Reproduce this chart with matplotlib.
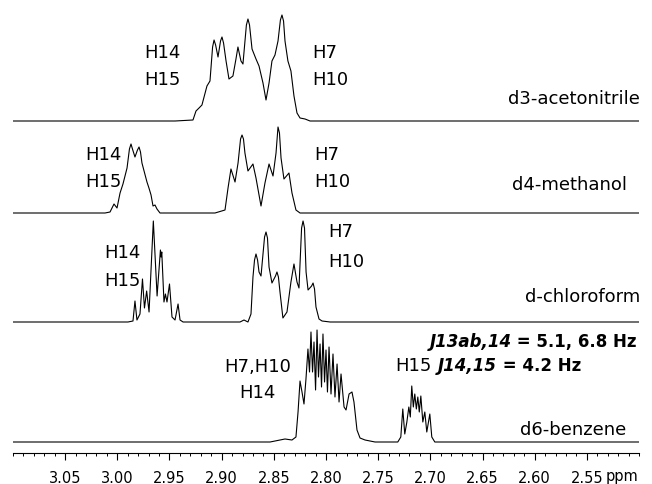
import matplotlib
matplotlib.use("Agg")
import matplotlib.pyplot as plt
from matplotlib.ticker import MultipleLocator, FixedLocator

plt.rcParams['font.family'] = ['DejaVu Sans']

# ---- spectra: (ppm, intensity) ----
ac_ppm = [3.10, 2.9447, 2.9275, 2.9246, 2.9217, 2.9189, 2.9141, 2.9112, 2.9087, 2.9073, 2.9058, 2.9035,
          2.9011, 2.8997, 2.8982, 2.8958, 2.8930, 2.8892, 2.8863, 2.8844, 2.8815, 2.8796, 2.8763, 2.8748, 2.8733, 2.8709,
          2.8671, 2.8642, 2.8604, 2.8575, 2.8546, 2.8518, 2.8489, 2.8460, 2.8437, 2.8422, 2.8407, 2.8393,
          2.8365, 2.8336, 2.8307, 2.8278, 2.8249, 2.8201, 2.8153, 2.50]
ac_int = [0, 0, 1, 10, 13, 16, 35, 40, 74, 81, 76, 64,
          80, 84, 78, 60, 42, 45, 62, 74, 60, 57, 96, 102, 96, 72,
          62, 55, 38, 21, 38, 60, 66, 80, 101, 106, 100, 80,
          60, 50, 25, 8, 3, 2, 0, 0]

me_ppm = [3.10, 3.0118, 3.0070, 3.0051, 3.0032, 3.0003, 2.9974, 2.9946, 2.9907, 2.9884, 2.9869, 2.9855,
          2.9831, 2.9807, 2.9792, 2.9778, 2.9764, 2.9716, 2.9697, 2.9677, 2.9658, 2.9639, 2.9620, 2.9591,
          2.9064, 2.8968, 2.8939, 2.8911, 2.8872, 2.8843, 2.8819, 2.8805, 2.8791, 2.8777, 2.8748, 2.8700,
          2.8671, 2.8623, 2.8585, 2.8546, 2.8508, 2.8479, 2.8460, 2.8446, 2.8431, 2.8403, 2.8355,
          2.8326, 2.8288, 2.8249, 2.50]
me_int = [0, 0, 1, 5, 9, 5, 20, 29, 45, 64, 69, 64,
          56, 63, 66, 61, 50, 31, 25, 18, 7, 8, 4, 0,
          0, 3, 25, 44, 31, 50, 74, 78, 74, 60, 42, 49,
          35, 7, 30, 49, 37, 60, 86, 80, 55, 34, 40,
          20, 3, 0, 0]

cl_ppm = [3.10, 2.9898, 2.9850, 2.9831, 2.9812, 2.9783, 2.9759, 2.9740, 2.9719, 2.9696,
          2.9655, 2.9619, 2.9587, 2.9581, 2.9574, 2.9553, 2.9539, 2.9524, 2.9500, 2.9476,
          2.9447, 2.9418, 2.9399, 2.9370,
          2.8824, 2.8786, 2.8748, 2.8719, 2.8700, 2.8685, 2.8671, 2.8656, 2.8642, 2.8623, 2.8589, 2.8575, 2.8561, 2.8546,
          2.8518, 2.8484, 2.8470, 2.8456, 2.8441, 2.8413, 2.8374, 2.8336, 2.8307, 2.8278, 2.8259, 2.8234, 2.8220, 2.8206,
          2.8191, 2.8172, 2.8138, 2.8124, 2.8110, 2.8096, 2.8067, 2.8038, 2.7960, 2.50]
cl_int = [0, 0, 1, 21, 2, 8, 43, 14, 31, 10,
          101, 26, 72, 65, 70, 20, 28, 20, 38, 5,
          2, 18, 2, 0,
          0, 2, 0, 8, 45, 62, 68, 62, 50, 46, 85, 90, 84, 55,
          39, 46, 50, 45, 30, 4, 10, 40, 58, 40, 34, 94, 101, 94,
          50, 32, 36, 39, 33, 15, 3, 1, 0, 0]

bz_ppm = [3.10, 2.8536, 2.8393, 2.8326, 2.8288, 2.8268, 2.8249, 2.8230, 2.8211, 2.8192,
          2.8173, 2.8158, 2.8144, 2.8129, 2.8115, 2.8100, 2.8086, 2.8072, 2.8057, 2.8043,
          2.8029, 2.8014, 2.8000, 2.7986, 2.7971, 2.7952, 2.7933, 2.7914, 2.7894, 2.7875,
          2.7856, 2.7827, 2.7808, 2.7779, 2.7751, 2.7732, 2.7703, 2.7674, 2.7626, 2.7530,
          2.7312, 2.7283, 2.7264, 2.7245, 2.7225, 2.7206, 2.7192, 2.7178, 2.7163, 2.7149,
          2.7134, 2.7120, 2.7106, 2.7091, 2.7072, 2.7053, 2.7034, 2.7005, 2.6986, 2.6957, 2.50]
bz_int = [0, 0, 3, 2, 5, 30, 61, 50, 38, 63,
          93, 70, 110, 70, 100, 52, 112, 65, 98, 55,
          108, 60, 92, 50, 95, 48, 88, 45, 78, 40,
          68, 35, 32, 48, 50, 40, 12, 4, 2, 0,
          0, 5, 33, 8, 20, 35, 25, 56, 35, 48,
          33, 45, 30, 46, 20, 30, 10, 28, 5, 0, 0]

solvents = ['d3-acetonitrile', 'd4-methanol', 'd-chloroform', 'd6-benzene']
spectra = [(ac_ppm, ac_int), (me_ppm, me_int), (cl_ppm, cl_int), (bz_ppm, bz_int)]
baselines = [332, 240, 131, 11]   # vertical stacking offsets

fig = plt.figure(figsize=(6.52, 4.85), dpi=100)
ax = fig.add_axes([13 / 652, 31 / 485, 626 / 652, 454 / 485])

for (x, y), b in zip(spectra, baselines):
    ax.plot(x, [v + b for v in y], color='black', lw=0.8)

ax.set_xlim(3.10, 2.50)
ax.set_ylim(0, 454)

for s in ['left', 'right', 'top']:
    ax.spines[s].set_visible(False)
ax.spines['bottom'].set_linewidth(0.8)
ax.set_yticks([])
ax.xaxis.set_major_locator(FixedLocator([3.05, 3.00, 2.95, 2.90, 2.85, 2.80, 2.75, 2.70, 2.65, 2.60, 2.55]))
ax.xaxis.set_minor_locator(MultipleLocator(0.01))
ax.set_xticklabels(['3.05', '3.00', '2.95', '2.90', '2.85', '2.80', '2.75', '2.70', '2.65', '2.60', '2.55'])
ax.tick_params(axis='x', which='major', length=5, width=0.8, direction='out', labelsize=10.5, pad=7)
ax.tick_params(axis='x', which='minor', length=2.5, width=0.7, direction='out')
ax.text(2.5166, -23 / 454, 'ppm', transform=ax.get_xaxis_transform(), ha='center', va='center', fontsize=10.5)

fs = 13
# peak assignments (ppm, height above axis, text, alignment)
labels = [
    (2.9745, 401, 'H14', 'left'), (2.9745, 374, 'H15', 'left'),
    (2.8135, 401, 'H7', 'left'), (2.8135, 374, 'H10', 'left'),
    (3.0307, 299, 'H14', 'left'), (3.0307, 272, 'H15', 'left'),
    (2.8115, 299, 'H7', 'left'), (2.8115, 272, 'H10', 'left'),
    (3.0126, 201, 'H14', 'left'), (3.0126, 173, 'H15', 'left'),
    (2.7982, 222, 'H7', 'left'), (2.7982, 192, 'H10', 'left'),
    (2.8654, 87, 'H7,H10', 'center'), (2.8654, 61, 'H14', 'center'),
    (2.7340, 88, 'H15', 'left'),
]
for x, y, t, ha in labels:
    ax.text(x, y, t, ha=ha, va='center', fontsize=fs)

solvent_x = [2.4990, 2.5115, 2.4990, 2.5125]
solvent_y = [355, 269, 157, 24]
for name, x, y in zip(solvents, solvent_x, solvent_y):
    ax.text(x, y, name, ha='right', va='center', fontsize=fs)

# coupling constants
fig.canvas.draw()
r = fig.canvas.get_renderer()
t1 = ax.text(2.5020, 112, ' = 5.1, 6.8 Hz', ha='right', va='center', fontsize=12, weight='bold')
bb = t1.get_window_extent(r)
x0 = ax.transData.inverted().transform((bb.x0, 0))[0]
ax.text(x0, 112, 'J13ab,14', ha='right', va='center', fontsize=12, weight='bold', style='italic')

t2 = ax.text(2.6925, 88, 'J14,15', ha='left', va='center', fontsize=12, weight='bold', style='italic')
bb = t2.get_window_extent(r)
x1 = ax.transData.inverted().transform((bb.x1, 0))[0]
ax.text(x1, 88, ' = 4.2 Hz', ha='left', va='center', fontsize=12, weight='bold')

fig.savefig('out.png', dpi=100)
